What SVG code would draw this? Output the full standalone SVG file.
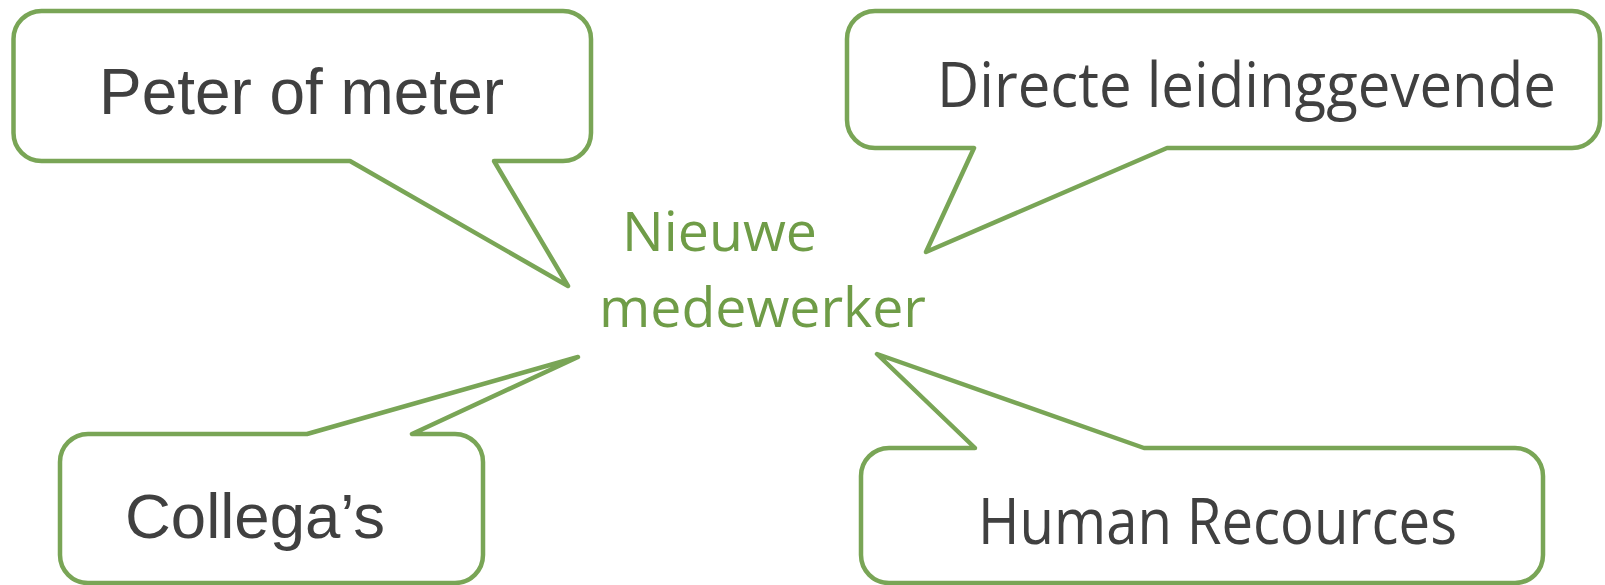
<svg xmlns="http://www.w3.org/2000/svg" width="1605" height="585" viewBox="0 0 1605 585">
<style>
.callout{fill:#ffffff;stroke:#79a556;stroke-width:4.5;stroke-linejoin:round}
.lblA{font-family:"Liberation Sans",Arial,sans-serif;fill:#404040}
.lblB{font-family:"Open Sans","Noto Sans",sans-serif;fill:#404040}
.center{font-family:"Open Sans","Noto Sans",sans-serif;fill:#6f9c47;font-size:55px}
</style>
<rect width="1605" height="585" fill="#ffffff"/>
<g id="connectors"></g>
<g id="node-peter">
<path class="callout" d="M 41.5 11 H 563 A 28 28 0 0 1 591 39 V 133 A 28 28 0 0 1 563 161 H 494 L 568 286 L 350 161 H 41.5 A 28 28 0 0 1 13.5 133 V 39 A 28 28 0 0 1 41.5 11 Z"/>
<text class="lblA" x="99" y="114" font-size="64" textLength="405" lengthAdjust="spacingAndGlyphs">Peter of meter</text>
</g>
<g id="node-leiding">
<path class="callout" d="M 875 11 H 1572 A 28 28 0 0 1 1600 39 V 120 A 28 28 0 0 1 1572 148 H 1167 L 926 252 L 974 148 H 875 A 28 28 0 0 1 847 120 V 39 A 28 28 0 0 1 875 11 Z"/>
<text class="lblB" x="937" y="107" font-size="62" textLength="619" lengthAdjust="spacingAndGlyphs">Directe leidinggevende</text>
</g>
<g id="node-collegas">
<path class="callout" d="M 88 434 H 307 L 578 357 L 412 434 H 455 A 28 28 0 0 1 483 462 V 555 A 28 28 0 0 1 455 583 H 88 A 28 28 0 0 1 60 555 V 462 A 28 28 0 0 1 88 434 Z"/>
<text class="lblA" x="125" y="538" font-size="63" textLength="260" lengthAdjust="spacingAndGlyphs">Collega’s</text>
</g>
<g id="node-hr">
<path class="callout" d="M 889 448 H 975 L 877 354 L 1144 448 H 1515 A 28 28 0 0 1 1543 476 V 555 A 28 28 0 0 1 1515 583 H 889 A 28 28 0 0 1 861 555 V 476 A 28 28 0 0 1 889 448 Z"/>
<text class="lblB" x="978" y="544" font-size="64" textLength="479" lengthAdjust="spacingAndGlyphs">Human Recources</text>
</g>
<g id="node-center">
<text class="center" x="622" y="251" textLength="195" lengthAdjust="spacingAndGlyphs">Nieuwe</text>
<text class="center" x="599" y="327" textLength="327" lengthAdjust="spacingAndGlyphs">medewerker</text>
</g>
</svg>
